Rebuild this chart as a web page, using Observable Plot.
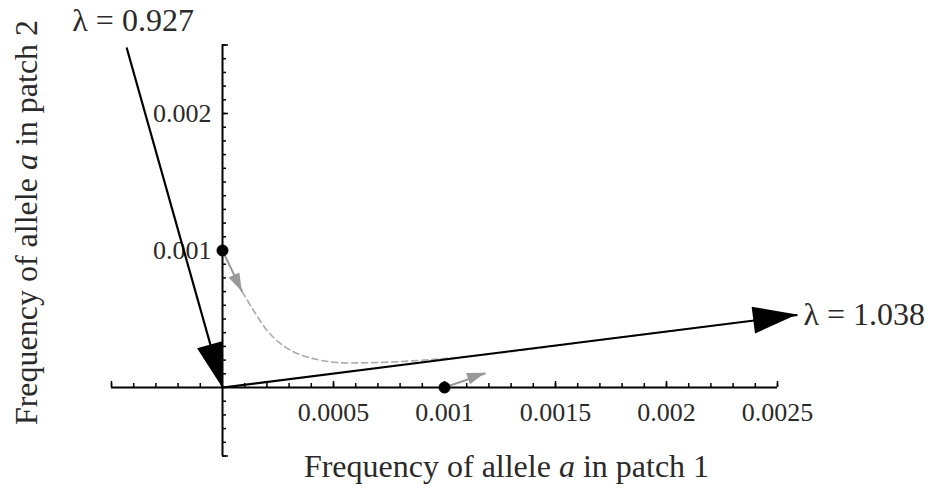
<!DOCTYPE html>
<html>
<head>
<meta charset="utf-8">
<script src="https://cdn.jsdelivr.net/npm/d3@7"></script>
<script src="https://cdn.jsdelivr.net/npm/@observablehq/plot@0.6"></script>
<style>
  body { margin: 0; background: #fff; }
  svg { display: block; }
</style>
</head>
<body>
<div id="chart"></div>
<script>
// ---- data ----
const xDomain = [-0.0005, 0.0025];
const yDomain = [-0.0005, 0.0025];
const xMinorTicks = d3.range(-5, 26).filter(i => i !== 0).map(i => i / 10000);
const yMinorTicks = d3.range(-5, 26).filter(i => i !== 0).map(i => i / 10000);
const xTickValues = [0.0005, 0.001, 0.0015, 0.002, 0.0025];
const xTickLabels = ["0.0005", "0.001", "0.0015", "0.002", "0.0025"];
const yTickValues = [0.001, 0.002];
const yTickLabels = ["0.001", "0.002"];

// eigenvector arrows (start -> end)
const eigenArrows = [
  {x1: -0.000432, y1: 0.002482, x2: 0, y2: 0, label: "λ = 0.927"},
  {x1: 0, y1: 0, x2: 0.00259, y2: 0.000529, label: "λ = 1.038"}
];
// initial points
const startPoints = [
  {x: 0, y: 0.001},
  {x: 0.001, y: 0}
];
// first step of each trajectory
const stepArrows = [
  {x1: 0, y1: 0.001, x2: 0.0000887, y2: 0.000699},
  {x1: 0.001, y1: 0, x2: 0.001185, y2: 0.000104}
];
// trajectory from (0, 0.001)
const trajX = [0.0000887, 0.000140, 0.000201, 0.000261, 0.000336, 0.000427, 0.000517, 0.000635, 0.000787, 0.000937, 0.001027, 0.001284, 0.00170, 0.00210, 0.00245];
const trajY = [0.000699, 0.000562, 0.000416, 0.000321, 0.000248, 0.000204, 0.000182, 0.000180, 0.000188, 0.000204, 0.000215, 0.000258, 0.000347, 0.000428, 0.000499];
const trajectory = trajX.map((x, i) => ({x, y: trajY[i]}));

const xTitle = "Frequency of allele a in patch 1";
const yTitle = "Frequency of allele a in patch 2";

const FONT = "'Liberation Serif', 'Times New Roman', serif";
const TEXT = "#2a2a2a";

// arrowhead renderer using Plot's scales
function heads(segs, len, hw, fill) {
  return (index, scales) => {
    const {x, y} = scales;
    const g = d3.create("svg:g");
    for (const s of segs) {
      const px1 = x(s.x1), py1 = y(s.y1), px2 = x(s.x2), py2 = y(s.y2);
      const dx = px2 - px1, dy = py2 - py1, L = Math.hypot(dx, dy);
      const ux = dx / L, uy = dy / L;
      const bx = px2 - ux * len, by = py2 - uy * len;
      g.append("path")
        .attr("d", `M${px2},${py2}L${bx - uy * hw},${by + ux * hw}L${bx + uy * hw},${by - ux * hw}Z`)
        .attr("fill", fill);
    }
    return g.node();
  };
}

const chart = Plot.plot({
  width: 930,
  height: 488,
  marginLeft: 111,
  marginRight: 153,
  marginTop: 44.5,
  marginBottom: 32.5,
  x: {domain: xDomain, axis: null},
  y: {domain: yDomain, axis: null},
  style: {fontFamily: FONT, background: "white"},
  marks: [
    // axes
    Plot.ruleY([0], {stroke: "black", strokeWidth: 2}),
    Plot.ruleX([0], {stroke: "black", strokeWidth: 2}),
    // minor ticks
    Plot.ruleX(xMinorTicks, {x: d => d, y1: 0, y2: 0, insetTop: -4, stroke: "black", strokeWidth: 1.5}),
    Plot.ruleY(yMinorTicks, {y: d => d, x1: 0, x2: 0, insetRight: -4, stroke: "black", strokeWidth: 1.5}),
    // major ticks
    Plot.ruleX([-0.0005, ...xTickValues], {x: d => d, y1: 0, y2: 0, insetTop: -6, stroke: "black", strokeWidth: 1.5}),
    Plot.ruleY([-0.0005, ...yTickValues, 0.0025], {y: d => d, x1: 0, x2: 0, insetRight: -6, stroke: "black", strokeWidth: 1.5}),
    // tick labels
    Plot.text(xTickValues, {x: d => d, y: 0, text: (d, i) => xTickLabels[i], dy: 25, fontSize: 26, fill: TEXT}),
    Plot.text(yTickValues, {x: 0, y: d => d, text: (d, i) => yTickLabels[i], dx: -11, textAnchor: "end", fontSize: 26, fill: TEXT}),
    // trajectory (dashed)
    Plot.line(trajectory, {x: "x", y: "y", stroke: "#aaaaaa", strokeWidth: 1.6, strokeDasharray: "6,4", curve: "catmull-rom"}),
    // eigenvector arrows
    Plot.link(eigenArrows, {x1: "x1", y1: "y1", x2: "x2", y2: "y2", stroke: "black", strokeWidth: 2.2}),
    heads(eigenArrows, 44, 13.5, "black"),
    Plot.text(eigenArrows.slice(0, 1), {x: "x1", y: "y1", text: "label", dx: 6.5, dy: -27, fontSize: 32, fill: TEXT}),
    Plot.text(eigenArrows.slice(1), {x: "x2", y: "y2", text: "label", dx: 6, textAnchor: "start", fontSize: 32, fill: TEXT}),
    // step arrows
    Plot.link(stepArrows, {x1: "x1", y1: "y1", x2: "x2", y2: "y2", stroke: "#999999", strokeWidth: 2}),
    heads(stepArrows, 18, 6, "#999999"),
    // start points
    Plot.dot(startPoints, {x: "x", y: "y", r: 5.5, fill: "black", stroke: "black", strokeWidth: 1}),
    // axis titles
    Plot.text([xTitle], {frameAnchor: "bottom", lineAnchor: "top", text: d => d, dx: 62, dy: -2, fontSize: 32, fill: TEXT}),
    Plot.text([yTitle], {frameAnchor: "left", text: d => d, rotate: -90, textAnchor: "middle", dx: -84.5, dy: -28, fontSize: 32, fill: TEXT})
  ]
});

// italicise the allele symbol "a" in the axis titles
d3.select(chart).selectAll("text").each(function() {
  const t = this.textContent;
  if (t === xTitle || t === yTitle) {
    const parts = t.split(" a ");
    const sel = d3.select(this);
    sel.text(null);
    sel.append("tspan").text(parts[0] + " ");
    sel.append("tspan").attr("font-style", "italic").text("a");
    sel.append("tspan").text(" " + parts[1]);
  }
});

document.getElementById("chart").append(chart);
</script>
</body>
</html>
